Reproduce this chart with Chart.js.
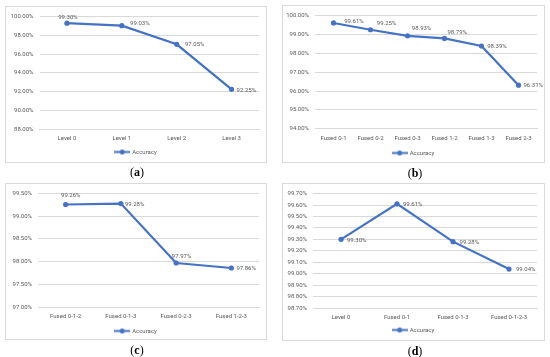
<!DOCTYPE html>
<html>
<head>
<meta charset="utf-8">
<script src="https://cdn.jsdelivr.net/npm/chart.js@4.4.1/dist/chart.umd.min.js"></script>
<style>
body{margin:0;width:550px;height:357px;background:#fff;position:relative;overflow:hidden}
.box{position:absolute;border:1px solid #d9d9d9;box-sizing:border-box;pointer-events:none;z-index:2}
.cv{position:absolute}
.lab{position:absolute;font:12px 'Liberation Serif','Times New Roman',serif;color:#000;transform:translate(-50%,-50%);white-space:nowrap}
.lab b{font-weight:bold}
</style>
</head>
<body>
<div class="box" style="left:5px;top:6px;width:262px;height:157px"></div>
<div class="cv" style="left:6px;top:7px;width:260px;height:158px"><canvas id="chartA"></canvas></div>
<div class="lab" style="left:137px;top:172px">(<b>a</b>)</div>

<div class="box" style="left:282px;top:5px;width:263px;height:158px"></div>
<div class="cv" style="left:283px;top:6px;width:261px;height:160px"><canvas id="chartB"></canvas></div>
<div class="lab" style="left:415px;top:173px">(<b>b</b>)</div>

<div class="box" style="left:5px;top:183px;width:262px;height:157px"></div>
<div class="cv" style="left:6px;top:184px;width:260px;height:160px"><canvas id="chartC"></canvas></div>
<div class="lab" style="left:137px;top:350px">(<b>c</b>)</div>

<div class="box" style="left:282px;top:183px;width:263px;height:158px"></div>
<div class="cv" style="left:283px;top:184px;width:261px;height:159px"><canvas id="chartD"></canvas></div>
<div class="lab" style="left:415px;top:351px">(<b>d</b>)</div>

<script>
// values
const catsA = ['Level 0', 'Level 1', 'Level 2', 'Level 3'];
const accA = [99.30, 99.03, 97.05, 92.25];
const ticksA = [88, 90, 92, 94, 96, 98, 100];

const catsB = ['Fused 0-1', 'Fused 0-2', 'Fused 0-3', 'Fused 1-2', 'Fused 1-3', 'Fused 2-3'];
const accB = [99.61, 99.25, 98.93, 98.79, 98.39, 96.31];
const ticksB = [94, 95, 96, 97, 98, 99, 100];

const catsC = ['Fused 0-1-2', 'Fused 0-1-3', 'Fused 0-2-3', 'Fused 1-2-3'];
const accC = [99.26, 99.28, 97.97, 97.86];
const ticksC = [97, 97.5, 98, 98.5, 99, 99.5];

const catsD = ['Level 0', 'Fused 0-1', 'Fused 0-1-3', 'Fused 0-1-2-3'];
const accD = [99.30, 99.61, 99.28, 99.04];
const ticksD = [98.7, 98.8, 98.9, 99.0, 99.1, 99.2, 99.3, 99.4, 99.5, 99.6, 99.7];

const blue = '#4472C4';
const grey = '#595959';
const gridCol = '#d9d9d9';
const fontFam = 'Roboto, sans-serif';
const fontSize = 6;

// legend sample: line with a dot
const sample = document.createElement('canvas');
sample.width = 16; sample.height = 7;
(function () {
    const c = sample.getContext('2d');
    c.strokeStyle = blue; c.lineWidth = 2;
    c.beginPath(); c.moveTo(0, 3.5); c.lineTo(16, 3.5); c.stroke();
    c.fillStyle = blue;
    c.beginPath(); c.arc(8, 3.5, 2.5, 0, Math.PI * 2); c.fill();
})();

// draws the value next to each point
const valueLabels = {
    id: 'valueLabels',
    afterDatasetsDraw(chart) {
        const offs = chart.options.plugins.valueLabels.offsets;
        const ctx = chart.ctx;
        const meta = chart.getDatasetMeta(0);
        const vals = chart.data.datasets[0].data;
        ctx.save();
        ctx.font = fontSize + 'px ' + fontFam;
        ctx.fillStyle = grey;
        ctx.textAlign = 'left';
        ctx.textBaseline = 'middle';
        meta.data.forEach((pt, i) => {
            const o = offs[i];
            ctx.fillText(vals[i].toFixed(2) + '%', pt.x + o[0], pt.y + o[1]);
        });
        ctx.restore();
    }
};

function makeChart(id, cats, vals, ticks, p) {
    return new Chart(document.getElementById(id), {
        type: 'line',
        data: {
            labels: cats,
            datasets: [{
                label: 'Accuracy',
                data: vals,
                borderColor: blue,
                backgroundColor: blue,
                borderWidth: 2.2,
                pointRadius: 2.6,
                pointBorderWidth: 0,
                pointBackgroundColor: blue,
                tension: 0,
                clip: false
            }]
        },
        options: {
            animation: false,
            responsive: true,
            maintainAspectRatio: false,
            layout: { padding: { left: 0, right: 0, top: p.top, bottom: 0 } },
            scales: {
                x: {
                    offset: true,
                    grid: { display: false, drawTicks: false },
                    border: { display: true, color: gridCol },
                    ticks: { color: grey, font: { family: fontFam, size: fontSize }, padding: 6, maxRotation: 0, autoSkip: false },
                    afterFit(s) { s.height = p.xh; }
                },
                y: {
                    min: ticks[0],
                    max: ticks[ticks.length - 1],
                    grid: { color: gridCol, drawTicks: false },
                    border: { display: false },
                    ticks: {
                        color: grey, font: { family: fontFam, size: fontSize }, padding: 6, autoSkip: false,
                        callback: v => v.toFixed(2) + '%'
                    },
                    afterBuildTicks(s) { s.ticks = ticks.map(v => ({ value: v })); },
                    afterFit(s) { s.width = p.left; }
                },
                // empty right margin so the legend stays centred in the box
                yr: {
                    type: 'linear',
                    position: 'right',
                    grid: { display: false, drawTicks: false },
                    border: { display: false },
                    ticks: { display: false },
                    afterFit(s) { s.width = 7; }
                }
            },
            plugins: {
                legend: {
                    position: 'bottom',
                    labels: {
                        color: grey,
                        font: { family: fontFam, size: fontSize },
                        padding: 4,
                        usePointStyle: true,
                        pointStyleWidth: 14,
                        generateLabels(chart) {
                            return [{ text: 'Accuracy', pointStyle: sample, fontColor: grey, lineWidth: 0, datasetIndex: 0 }];
                        }
                    }
                },
                tooltip: { enabled: false },
                valueLabels: { offsets: p.offsets }
            }
        },
        plugins: [valueLabels]
    });
}

makeChart('chartA', catsA, accA, ticksA, {
    left: 33.5, top: 6.2, xh: 15.8,
    offsets: [[-8.7, -6], [8.3, -2], [8.3, 0.6], [5, 1]]
});
makeChart('chartB', catsB, accB, ticksB, {
    left: 32, top: 7.2, xh: 17.2,
    offsets: [[10.7, -1.7], [6.3, -6], [4.3, -7.7], [3, -6], [5.7, 0.7], [5, 0.7]]
});
makeChart('chartC', catsC, accC, ticksC, {
    left: 32, top: 7, xh: 17,
    offsets: [[-4.6, -9], [4, 1], [-4.3, -6.7], [5, 0.5]]
});
makeChart('chartD', catsD, accD, ticksD, {
    left: 30, top: 6.5, xh: 15,
    offsets: [[6, 1], [6, 0.6], [6.6, 0.7], [7, 0.4]]
});
</script>
</body>
</html>
